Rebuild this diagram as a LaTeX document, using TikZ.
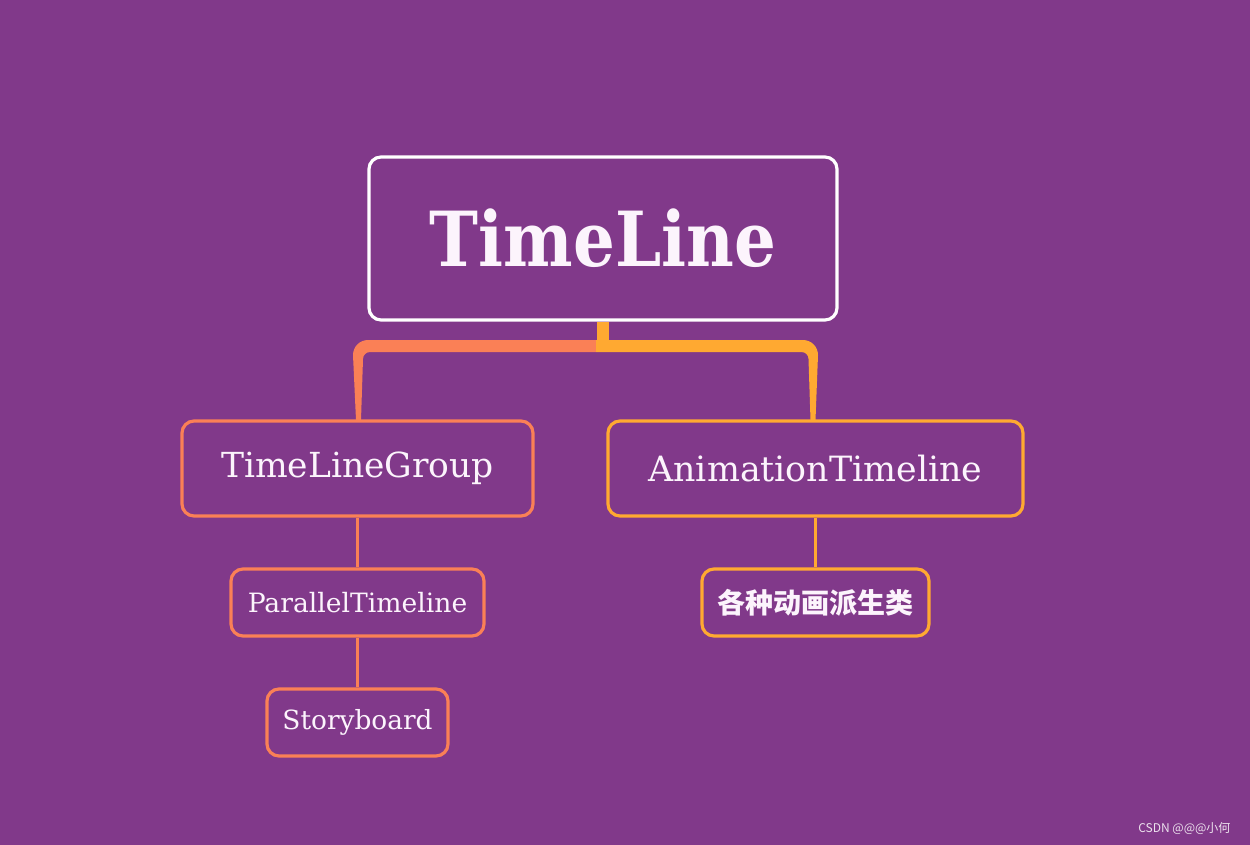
\documentclass[tikz,border=0pt]{standalone}
\usepackage{fontspec}
\setmainfont{DejaVu Serif}
\newfontfamily\cjkfont{Noto Sans CJK SC}
\definecolor{bg}{RGB}{129,57,138}
\definecolor{coral}{RGB}{250,128,86}
\definecolor{amber}{RGB}{255,169,49}
\definecolor{txt}{RGB}{252,244,252}
\begin{document}
\begin{tikzpicture}[x=1pt,y=-1pt,
  box/.style={draw, line width=3.2pt, rounded corners=12pt, text=txt, inner sep=0pt},
  link/.style={line width=3pt}]
\useasboundingbox (0,0) rectangle (1250,845);
\fill[bg] (0,0) rectangle (1250,845);
% nodes
\node[box, draw=white, minimum width=468pt, minimum height=163pt, font=\fontsize{76}{80}\selectfont\bfseries] (root) at (603,238.5) {\scalebox{0.865}[1]{TimeLine}};
\node[box, draw=coral, minimum width=351pt, minimum height=95pt, font=\fontsize{34.5}{38}\selectfont] (tlg) at (357.5,468.5) {TimeLineGroup};
\node[box, draw=amber, minimum width=415pt, minimum height=95pt, font=\fontsize{34.8}{38}\selectfont] (anim) at (815.5,468.5) {AnimationTimeline};
\node[box, draw=coral, minimum width=253pt, minimum height=67pt, font=\fontsize{26.6}{30}\selectfont] (par) at (357.5,602.5) {ParallelTimeline};
\node[box, draw=coral, minimum width=181pt, minimum height=67pt, font=\fontsize{26.4}{30}\selectfont] (story) at (357.5,722.5) {Storyboard};
\node[box, draw=amber, minimum width=227pt, minimum height=67pt, font=\cjkfont\fontsize{28}{30}\selectfont\bfseries] (deriv) at (815.5,602.5) {各种动画派生类};
% bracket connector
\coordinate (stub) at (root.south);
\fill[amber] ([xshift=-6pt]stub) rectangle ([xshift=6pt]stub |- 0,342);
\fill[coral] (596,340) -- (368,340) arc[start angle=270, end angle=180, radius=15] -- (356,420) -- (361,420) -- (363,359) arc[start angle=180, end angle=270, radius=7] -- (596,352) -- cycle;
\fill[amber] (596,340) -- (803,340) arc[start angle=270, end angle=360, radius=15] -- (815.5,420) -- (810.5,420) -- (808.5,359) arc[start angle=0, end angle=-90, radius=7] -- (596,352) -- cycle;
% lines
\draw[link, coral] (tlg.south) -- (par.north);
\draw[link, coral] (par.south) -- (story.north);
\draw[link, amber] (anim.south) -- (deriv.north);
% watermark
\node[text=white!85!bg, font=\cjkfont\fontsize{12}{14}\selectfont, anchor=east] (wm) at (1234,828) {CSDN @@@小何};
\end{tikzpicture}
\end{document}
